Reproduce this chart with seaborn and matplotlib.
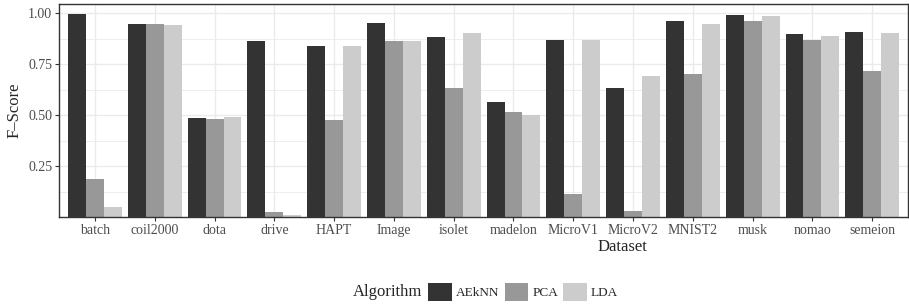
import pandas as pd
import seaborn as sns
import matplotlib.pyplot as plt
from matplotlib.patches import Patch
from matplotlib.ticker import MultipleLocator

datasets = ['batch', 'coil2000', 'dota', 'drive', 'HAPT', 'Image', 'isolet', 'madelon',
            'MicroV1', 'MicroV2', 'MNIST2', 'musk', 'nomao', 'semeion']
algorithms = ['AEkNN', 'PCA', 'LDA']
aeknn = [0.997, 0.948, 0.488, 0.865, 0.840, 0.953, 0.884, 0.566, 0.870, 0.634, 0.962, 0.992, 0.899, 0.908]
pca = [0.189, 0.948, 0.483, 0.028, 0.478, 0.865, 0.634, 0.517, 0.116, 0.033, 0.703, 0.962, 0.870, 0.718]
lda = [0.052, 0.943, 0.493, 0.013, 0.840, 0.865, 0.904, 0.502, 0.870, 0.693, 0.948, 0.987, 0.889, 0.904]
colors = ['#333333', '#989898', '#cccccc']

rows = []
for algo, vals in zip(algorithms, [aeknn, pca, lda]):
    for d, v in zip(datasets, vals):
        rows.append({'Dataset': d, 'Algorithm': algo, 'F-Score': v})
df = pd.DataFrame(rows)

sns.set_style('white')
plt.rcParams['font.family'] = ['Liberation Serif', 'DejaVu Serif']

fig = plt.figure(figsize=(9.09, 3.06), dpi=100)
ax = fig.add_axes([0.065, 0.291, 0.934, 0.696])

sns.barplot(data=df, x='Dataset', y='F-Score', hue='Algorithm', hue_order=algorithms,
            palette=colors, width=0.9, linewidth=0, saturation=1, ax=ax, legend=False)

# ggplot-like grid (theme_bw)
ax.yaxis.set_minor_locator(MultipleLocator(0.125))
ax.xaxis.grid(True, which='major', color='#ebebeb', linewidth=1.0)
ax.yaxis.grid(True, which='major', color='#ebebeb', linewidth=1.0)
ax.yaxis.grid(True, which='minor', color='#ebebeb', linewidth=0.6)
ax.set_axisbelow(True)

ax.set_xlim(-0.6, 13.6)
ax.set_ylim(0.002, 1.045)
ax.set_yticks([0.25, 0.5, 0.75, 1.0])
ax.set_yticklabels(['0.25', '0.50', '0.75', '1.00'])
ax.tick_params(axis='both', which='major', length=3, width=0.8, color='#333333',
               labelsize=10, labelcolor='#4d4d4d', pad=2, bottom=True, left=True)
ax.tick_params(axis='y', which='minor', length=0)
for s in ax.spines.values():
    s.set_color('#333333')
    s.set_linewidth(1.0)
ax.set_xlabel('')
ax.set_ylabel('F–Score', fontsize=12, labelpad=4)
fig.text(0.685, 0.193, 'Dataset', fontsize=12, ha='center', va='center')

handles = [Patch(facecolor=c, edgecolor='none') for c in colors]
fig.text(0.464, 0.046, 'Algorithm', fontsize=12, ha='right', va='center')
fig.legend(handles, algorithms, loc='center left', bbox_to_anchor=(0.471, 0.046), ncol=3,
           frameon=False, fontsize=9.5, handlelength=1.8, handleheight=1.8, handletextpad=0.3,
           columnspacing=0.4, borderaxespad=0, borderpad=0)

fig.savefig('out.png', dpi=100)
